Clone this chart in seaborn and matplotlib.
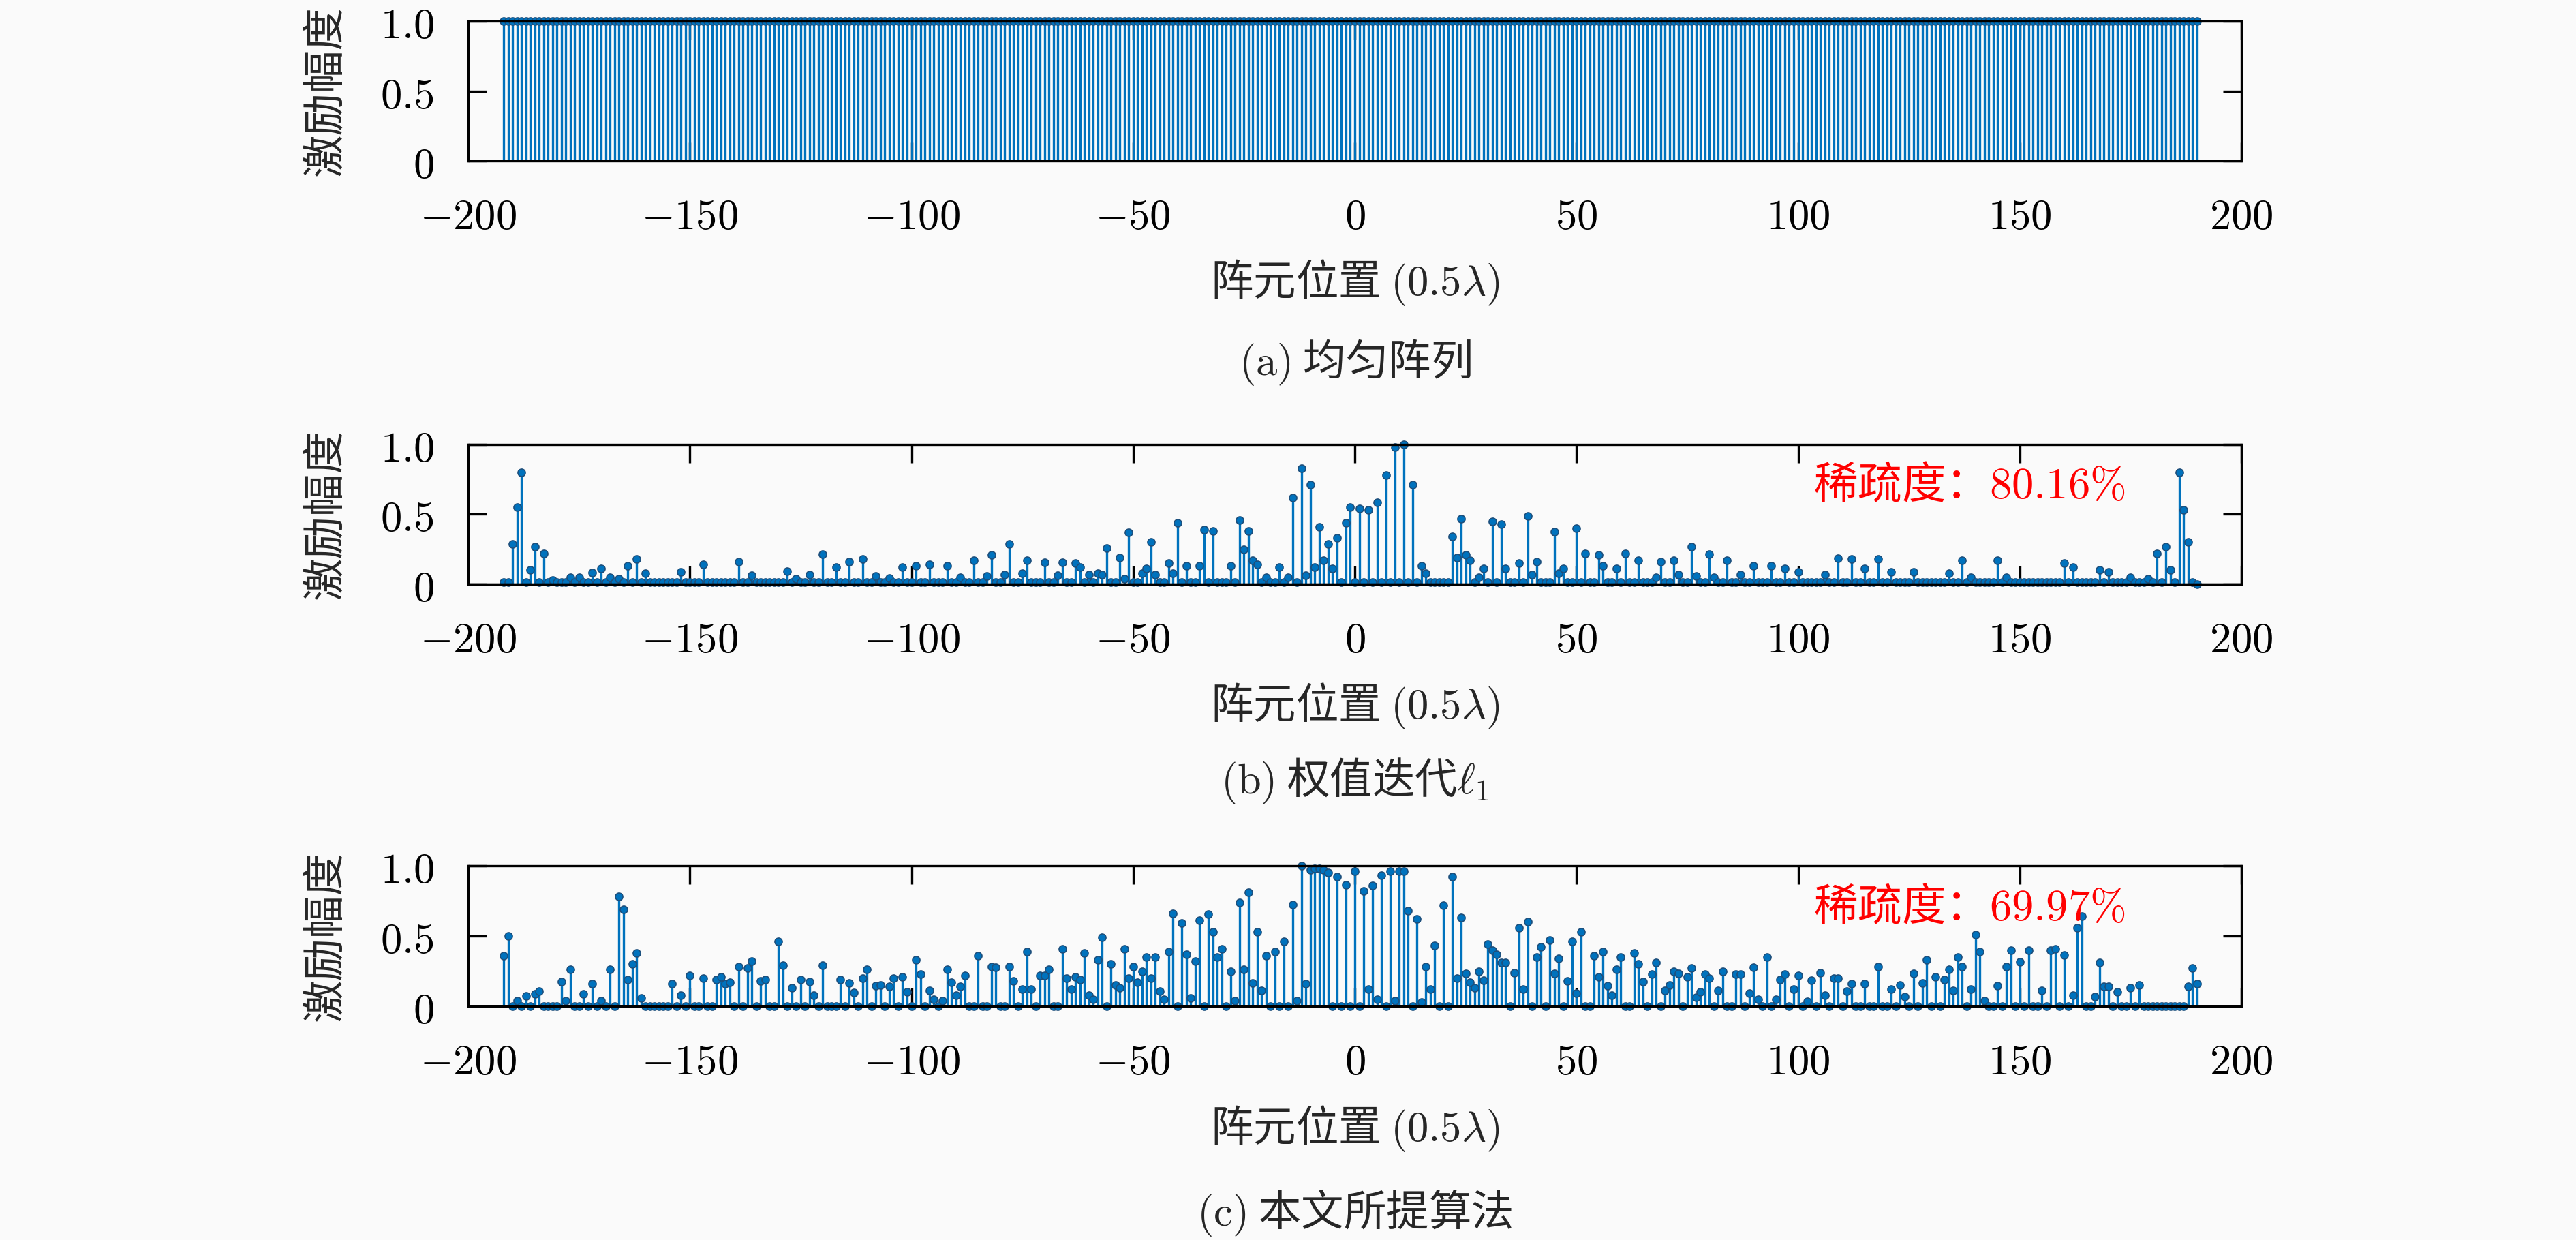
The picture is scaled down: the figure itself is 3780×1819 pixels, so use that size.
import numpy as np
import pandas as pd
import matplotlib
matplotlib.use('Agg')
import matplotlib.pyplot as plt
import seaborn as sns

sns.set_theme(style='ticks')
plt.rcParams['font.family'] = ['Noto Sans CJK SC', 'DejaVu Sans']
plt.rcParams['mathtext.fontset'] = 'cm'
plt.rcParams['axes.unicode_minus'] = True

# element positions (383 elements, unit = 0.5 lambda)
positions = np.arange(-192, 191)

# (a) uniform array: every element at amplitude 1
amp_uniform = np.ones(len(positions))

# (b) reweighted l1: visible stems, the rest sit on the baseline
b_base = 0.015
b_pos = [-190, -189, -188, -186, -185, -183, -181, -177, -175, -172, -170, -168, -166, -164, -162, -160,
         -152, -147, -139, -136, -128, -126, -123, -120, -117, -114, -111, -108, -105, -102, -99, -96,
         -92, -89, -86, -83, -82, -79, -78, -75, -74, -70, -67, -66, -63, -62, -60, -58, -57, -56,
         -53, -52, -51, -48, -47, -46, -45, -42, -41, -40, -38, -35, -34, -32, -28, -26, -25, -24,
         -23, -22, -20, -17, -15, -14, -12, -11, -10, -9, -8, -7, -6, -5, -4, -2, -1, 1, 3, 5, 7,
         9, 11, 13, 15, 16, 22, 23, 24, 25, 26, 28, 29, 31, 33, 34, 37, 39, 40, 41, 45, 46, 47, 50,
         52, 55, 56, 59, 61, 64, 68, 69, 72, 73, 76, 77, 80, 81, 84, 87, 90, 94, 97, 100, 106, 109,
         112, 115, 118, 121, 126, 134, 137, 139, 145, 147, 160, 162, 168, 170, 175, 179, 181, 183,
         184, 186, 187, 188, 190]
b_val = [0.29, 0.55, 0.80, 0.10, 0.27, 0.22, 0.03, 0.05, 0.05, 0.085, 0.11, 0.05, 0.04, 0.13, 0.18, 0.08,
         0.09, 0.14, 0.16, 0.065, 0.095, 0.04, 0.07, 0.215, 0.12, 0.16, 0.18, 0.06, 0.045, 0.12, 0.13, 0.14,
         0.13, 0.05, 0.17, 0.06, 0.21, 0.07, 0.29, 0.08, 0.17, 0.155, 0.065, 0.155, 0.15, 0.12, 0.07, 0.08, 0.07, 0.26,
         0.19, 0.04, 0.37, 0.08, 0.11, 0.30, 0.07, 0.15, 0.08, 0.44, 0.13, 0.13, 0.39, 0.38, 0.13, 0.46, 0.25, 0.38,
         0.17, 0.14, 0.05, 0.12, 0.05, 0.62, 0.83, 0.065, 0.71, 0.12, 0.41, 0.17, 0.29, 0.11, 0.33, 0.44, 0.55, 0.54, 0.53, 0.585, 0.78,
         0.98, 1.0, 0.71, 0.13, 0.08, 0.34, 0.19, 0.47, 0.21, 0.17, 0.05, 0.11, 0.45, 0.43, 0.11, 0.15, 0.49, 0.07, 0.16, 0.375, 0.08, 0.11, 0.40,
         0.22, 0.21, 0.13, 0.11, 0.22, 0.17, 0.05, 0.16, 0.17, 0.07, 0.27, 0.06, 0.215, 0.05, 0.17, 0.07, 0.13, 0.13, 0.11, 0.09, 0.07, 0.185,
         0.18, 0.11, 0.18, 0.09, 0.09, 0.08, 0.17, 0.05, 0.17, 0.05, 0.15, 0.12, 0.10, 0.09, 0.05, 0.04, 0.22, 0.27,
         0.10, 0.80, 0.53, 0.30, 0.0]

# (c) proposed method
c_base = 0.0
c_pos = [-192, -191, -189, -187, -185, -184, -179, -178, -177, -174, -172, -170, -168, -166, -165, -164,
         -163, -162, -161, -154, -152, -150, -147, -144, -143, -142, -141, -139, -137, -136, -134, -133,
         -130, -129, -127, -125, -123, -122, -120, -116, -114, -113, -111, -110, -108, -107, -105, -104,
         -102, -101, -99, -98, -96, -95, -93, -92, -91, -90, -89, -88, -85, -82, -81, -78, -77, -75,
         -74, -73, -71, -70, -69, -66, -65, -64, -63, -62, -61, -60, -59, -58, -57, -55, -54, -53,
         -52, -51, -50, -49, -48, -47, -46, -45, -44, -43, -42, -41, -39, -38, -37, -36, -35, -33,
         -32, -31, -30, -28, -27, -26, -25, -24, -23, -22, -21, -20, -18, -16, -14, -13, -12, -11,
         -10, -9, -8, -7, -6, -4, -2, 0, 2, 3, 4, 5, 6, 8, 9, 10, 11, 12, 14, 15, 16, 17, 18, 20,
         22, 23, 24, 25, 26, 27, 28, 29, 30, 31, 32, 33, 34, 36, 37, 38, 39, 41, 42, 44, 45, 46, 48,
         49, 50, 51, 54, 55, 56, 57, 58, 59, 60, 63, 64, 65, 67, 68, 70, 71, 72, 73, 75, 76, 77, 78,
         79, 80, 82, 83, 86, 87, 89, 90, 91, 93, 95, 96, 97, 99, 100, 102, 103, 105, 106, 108, 109,
         111, 112, 115, 118, 121, 123, 124, 126, 128, 129, 131, 133, 134, 135, 136, 137, 139, 140,
         141, 142, 145, 147, 148, 150, 152, 155, 157, 158, 160, 162, 163, 164, 167, 168, 169, 170,
         172, 175, 177, 188, 189, 190]
c_val = [0.36, 0.50, 0.04, 0.075, 0.085, 0.105, 0.175, 0.04, 0.26, 0.085, 0.16, 0.04, 0.26, 0.78, 0.69, 0.19,
         0.30, 0.38, 0.06, 0.16, 0.08, 0.22, 0.20, 0.19, 0.21, 0.16, 0.17, 0.28, 0.27, 0.32, 0.18, 0.19,
         0.46, 0.29, 0.13, 0.19, 0.175, 0.08, 0.29, 0.19, 0.165, 0.095, 0.20, 0.26, 0.145, 0.15, 0.14, 0.20,
         0.21, 0.10, 0.33, 0.23, 0.11, 0.05, 0.04, 0.26, 0.17, 0.08, 0.14, 0.22, 0.36, 0.28, 0.275, 0.28, 0.18, 0.12,
         0.39, 0.12, 0.22, 0.22, 0.26, 0.41, 0.20, 0.12, 0.21, 0.19, 0.38, 0.08, 0.05, 0.33, 0.49, 0.30, 0.15, 0.13,
         0.41, 0.20, 0.28, 0.17, 0.25, 0.35, 0.20, 0.35, 0.105, 0.05, 0.39, 0.66, 0.59, 0.37, 0.06, 0.32, 0.61, 0.655,
         0.53, 0.35, 0.41, 0.25, 0.04, 0.74, 0.26, 0.81, 0.165, 0.53, 0.11, 0.36, 0.39, 0.46, 0.725, 0.04, 1.0, 0.16,
         0.97, 0.98, 0.98, 0.97, 0.95, 0.92, 0.865, 0.96, 0.82, 0.12, 0.86, 0.05, 0.93, 0.96, 0.04, 0.96, 0.96, 0.68, 0.62, 0.03, 0.28, 0.12, 0.43, 0.72,
         0.92, 0.20, 0.63, 0.235, 0.17, 0.13, 0.25, 0.185, 0.44, 0.40, 0.37, 0.31, 0.31, 0.24, 0.56, 0.12, 0.60, 0.35, 0.42, 0.47, 0.235, 0.34, 0.18,
         0.46, 0.09, 0.53, 0.36, 0.21, 0.39, 0.145, 0.08, 0.26, 0.35, 0.38, 0.30, 0.175, 0.23, 0.31, 0.11, 0.15, 0.25, 0.235, 0.21, 0.27, 0.065, 0.10,
         0.23, 0.20, 0.11, 0.25, 0.23, 0.23, 0.09, 0.275, 0.05, 0.35, 0.05, 0.19, 0.23, 0.12, 0.22, 0.035, 0.185, 0.24, 0.08, 0.20, 0.20,
         0.105, 0.16, 0.16, 0.28, 0.12, 0.15, 0.07, 0.235, 0.165, 0.33, 0.21, 0.19, 0.26, 0.11, 0.35, 0.28, 0.12, 0.51,
         0.39, 0.04, 0.145, 0.28, 0.40, 0.315, 0.40, 0.11, 0.40, 0.41, 0.365, 0.08, 0.56, 0.64, 0.07, 0.31, 0.14, 0.14,
         0.10, 0.13, 0.15, 0.14, 0.27, 0.16]

x_ticks = [-200, -150, -100, -50, 0, 50, 100, 150, 200]
x_ticklabels = ['$-200$', '$-150$', '$-100$', '$-50$', '$0$', '$50$', '$100$', '$150$', '$200$']
y_ticks = [0, 0.5, 1.0]
y_ticklabels = ['$0$', '$0.5$', '$1.0$']

xlabel = '阵元位置 $(0.5\\lambda)$'
ylabel = '激励幅度'
captions = ['$\\mathrm{(a)}$ 均匀阵列', '$\\mathrm{(b)}$ 权值迭代$\\ell_1$', '$\\mathrm{(c)}$ 本文所提算法']
sparsity = [None, '稀疏度：$80.16\\%$', '稀疏度：$69.97\\%$']


def build(base, pos, val):
    amp = np.full(len(positions), base)
    idx = np.searchsorted(positions, pos)
    amp[idx] = val
    return amp


amps = [amp_uniform, build(b_base, b_pos, b_val), build(c_base, c_pos, c_val)]

W, H = 3780, 1819
dpi = 300
fig = plt.figure(figsize=(W / dpi, H / dpi), dpi=dpi)
bg = '#fafafa'
fig.patch.set_facecolor(bg)

stem_color = '#0072BD'
# axes boxes in pixels: top, bottom
boxes = [(31, 236), (652, 857), (1270, 1476)]
caption_y = [532, 1145, 1779]
left_px, right_px = 687, 3289
fs = 15

for i, (amp, (top, bot)) in enumerate(zip(amps, boxes)):
    ax = fig.add_axes([left_px / W, 1 - bot / H, (right_px - left_px) / W, (bot - top) / H])
    ax.set_facecolor(bg)
    df = pd.DataFrame({'pos': positions, 'amp': amp})
    ax.vlines(df['pos'], 0, df['amp'], colors=stem_color, linewidth=0.8, zorder=2)
    sns.scatterplot(data=df, x='pos', y='amp', ax=ax, s=7, color=stem_color,
                    edgecolor='#1d4f7c', linewidth=0.4, zorder=3, clip_on=False, legend=False)
    ax.axhline(0, color='black', linewidth=0.8, zorder=4)
    ax.set_xlim(-200, 200)
    ax.set_ylim(0, 1)
    ax.set_xticks(x_ticks)
    ax.set_xticklabels(x_ticklabels, fontsize=fs)
    ax.set_yticks(y_ticks)
    ax.set_yticklabels(y_ticklabels, fontsize=fs)
    ax.tick_params(direction='in', top=True, right=True, length=6.5, width=0.8,
                   pad=12, colors='black')
    for sp in ax.spines.values():
        sp.set_visible(True)
        sp.set_linewidth(0.8)
        sp.set_color('black')
        sp.set_zorder(5)
    ax.set_xlabel(xlabel, fontsize=fs, va='center')
    ax.xaxis.set_label_coords(0.5, -(415 - 236) / (bot - top))
    ax.set_ylabel(ylabel, fontsize=fs, va='center')
    ax.yaxis.set_label_coords((478 - left_px) / (right_px - left_px), 0.5)
    if sparsity[i]:
        ax.text(103.5, 0.70, sparsity[i], color='#ff0000', fontsize=15.5, va='center', ha='left')
    fig.text((left_px + right_px) / 2 / W, 1 - caption_y[i] / H, captions[i],
             fontsize=fs, ha='center', va='center')

fig.savefig('out.png', dpi=dpi, facecolor=bg)
